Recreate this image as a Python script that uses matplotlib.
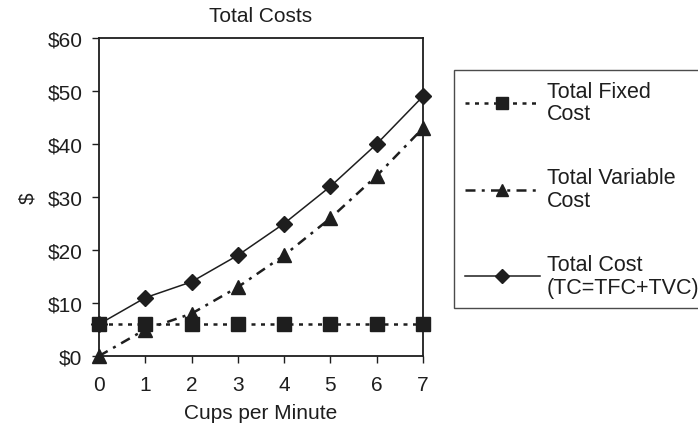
import matplotlib.pyplot as plt
from matplotlib.ticker import FuncFormatter

plt.rcParams["font.family"] = ["Liberation Sans", "DejaVu Sans"]

# 数据
cups = [0, 1, 2, 3, 4, 5, 6, 7]
total_fixed = [6, 6, 6, 6, 6, 6, 6, 6]
total_variable = [0, 5, 8, 13, 19, 26, 34, 43]
total_cost = [6, 11, 14, 19, 25, 32, 40, 49]

ink = "#1e1e1e"

fig = plt.figure(figsize=(6.98, 4.27), dpi=100)
ax = fig.add_axes([0.1418, 0.1639, 0.4642, 0.7447])

ax.plot(cups, total_fixed, color=ink, lw=1.8, dashes=(1.6, 2.2),
        marker="s", ms=10, clip_on=False, zorder=3,
        label="Total Fixed\nCost")
ax.plot(cups, total_variable, color=ink, lw=1.8, dashes=(4, 2.5, 1.2, 2.5),
        marker="^", ms=10, clip_on=False, zorder=3,
        label="Total Variable\nCost")
ax.plot(cups, total_cost, color=ink, lw=1.1,
        marker="D", ms=8.5, clip_on=False, zorder=4,
        label="Total Cost\n(TC=TFC+TVC)")

ax.set_xlim(0, 7)
ax.set_ylim(0, 60)
ax.set_xticks(cups)
ax.set_yticks(range(0, 61, 10))
ax.yaxis.set_major_formatter(FuncFormatter(lambda v, p: f"${v:.0f}"))
ax.tick_params(labelsize=15, length=5, width=1, color=ink, labelcolor=ink)
ax.tick_params(axis="y", pad=7)
ax.tick_params(axis="x", pad=9)
for s in ax.spines.values():
    s.set_color(ink)
    s.set_linewidth(1.3)

ax.set_title("Total Costs", fontsize=15, pad=12, color=ink)
ax.set_xlabel("Cups per Minute", fontsize=15, labelpad=6, color=ink)
ax.set_ylabel("$", fontsize=15, labelpad=7, color=ink)

# 图例
leg = fig.legend(loc="upper left", bbox_to_anchor=(0.6504, 0.8337),
                 fontsize=15.5, handlelength=3.5, handletextpad=0.3,
                 labelspacing=2.0, borderpad=0.5, fancybox=False,
                 edgecolor=ink, frameon=True, borderaxespad=0)
leg.get_frame().set_linewidth(1.0)
for h, ms in zip(leg.legend_handles, [8, 8, 7]):
    h.set_markersize(ms)
for t in leg.get_texts():
    t.set_linespacing(1.1)
    t.set_color(ink)

plt.savefig("out.png", dpi=100)
